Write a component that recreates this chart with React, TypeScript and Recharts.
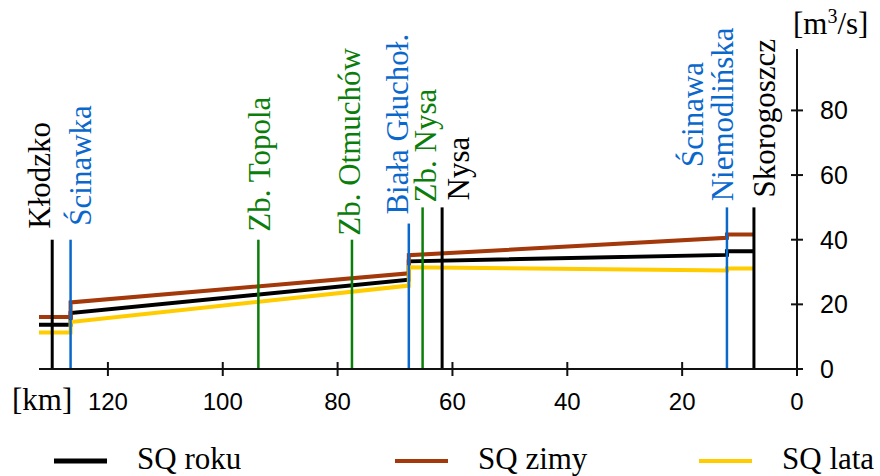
import React from 'react';
import { ComposedChart, Line, XAxis, YAxis, Legend, Label } from 'recharts';

const SERIF = '"Liberation Serif", "Times New Roman", serif';
const SANS = '"Liberation Sans", Arial, sans-serif';

const KM_TICKS = [0, 20, 40, 60, 80, 100, 120];
const Q_TICKS = [0, 20, 40, 60, 80];

// stations along the river: name, km from mouth, height of the marker [m3/s], type
const STATION_NAMES = [
  'Kłodzko', 'Ścinawka', 'Zb. Topola', 'Zb. Otmuchów', 'Biała Głuchoł.',
  'Zb. Nysa', 'Nysa', 'Ścinawa Niemodlińska', 'Skorogoszcz',
];
const STATION_KM = [129.7, 126.5, 93.8, 77.5, 67.6, 65.2, 61.8, 12.2, 7.5];
const STATION_TOP = [40, 40, 40, 40, 45, 50, 50, 50, 50];
const STATION_KIND = [
  'gauge', 'tributary', 'reservoir', 'reservoir', 'tributary',
  'reservoir', 'gauge', 'tributary', 'gauge',
];

// flow profile (steps at tributary inflows)
const PROFILE_KM = [132, 126.5, 126.5, 67.6, 67.6, 12.2, 12.2, 7.5];
const SQ_ROKU = [13.7, 13.7, 17.3, 27.6, 33.3, 35.3, 36.4, 36.4];
const SQ_ZIMY = [16.1, 16.1, 20.6, 29.6, 35.2, 40.6, 41.6, 41.6];
const SQ_LATA = [11.3, 11.3, 14.5, 25.8, 31.5, 30.5, 31.1, 31.1];

const SERIES = [
  { name: 'SQ roku', values: SQ_ROKU, color: '#000000' },
  { name: 'SQ zimy', values: SQ_ZIMY, color: '#a3390b' },
  { name: 'SQ lata', values: SQ_LATA, color: '#ffcc00' },
];

const KIND_COLOR: Record<string, string> = {
  gauge: '#000000',
  tributary: '#0a68cc',
  reservoir: '#0a7d0a',
};

// label placement per station: dx = baseline offset from marker, gap above marker top
const LABEL_POS: { dx: number[]; gap: number; middle?: boolean }[] = [
  { dx: [-2], gap: 11 },
  { dx: [20], gap: 14 },
  { dx: [12], gap: 8 },
  { dx: [8], gap: 4 },
  { dx: [-1], gap: 9 },
  { dx: [13], gap: 5 },
  { dx: [27], gap: 7 },
  { dx: [-24, 6], gap: 93, middle: true },
  { dx: [21], gap: 10 },
];

const LEGEND_X = [54, 395, 699];

const KmTick = (props: any) => {
  const { x, y, payload } = props;
  return (
    <g>
      <line x1={x} x2={x} y1={y - 7} y2={y + 7} stroke="#111" strokeWidth={2} />
      <text x={x} y={y + 41} textAnchor="middle" fontSize={24} fontFamily={SANS} fill="#000">
        {payload.value}
      </text>
    </g>
  );
};

const QTick = (props: any) => {
  const { x, y, payload } = props;
  return (
    <g>
      <line x1={x - 6} x2={x + 6} y1={y} y2={y} stroke="#111" strokeWidth={2} />
      <text x={x + 23} y={y} dy="0.36em" textAnchor="start" fontSize={25} fontFamily={SANS} fill="#000">
        {payload.value}
      </text>
    </g>
  );
};

const KmLabel = (props: any) => {
  const vb = props.viewBox || {};
  return (
    <text x={vb.x - 27} y={vb.y + 41} fontSize={31} fontFamily={SERIF} fill="#000">[km]</text>
  );
};

const UnitLabel = (props: any) => {
  const vb = props.viewBox || {};
  return (
    <text x={vb.x - 4} y={vb.y - 15} fontSize={31} fontFamily={SERIF} fill="#000">
      [m<tspan fontSize={20} dy={-11}>3</tspan><tspan dy={11}>/s]</tspan>
    </text>
  );
};

const stationDot = (s: number) => (props: any) => {
  const { cx, cy, index } = props;
  if (index !== 1) return <g key={`st${s}-${index}`} />;
  const pos = LABEL_POS[s];
  const color = KIND_COLOR[STATION_KIND[s]];
  const lines = pos.dx.length > 1 ? STATION_NAMES[s].split(' ') : [STATION_NAMES[s]];
  const py = cy - pos.gap;
  return (
    <g key={`st${s}-${index}`}>
      {lines.map((t, i) => {
        const px = cx + pos.dx[i];
        return (
          <text
            key={i}
            x={px}
            y={py}
            transform={`rotate(-90 ${px} ${py})`}
            textAnchor={pos.middle ? 'middle' : 'start'}
            fontSize={31}
            fontFamily={SERIF}
            fill={color}
          >
            {t}
          </text>
        );
      })}
    </g>
  );
};

const LegendContent = (props: any) => {
  const payload = props.payload || [];
  const list = SERIES.map((s) => {
    const p = payload.find((e: any) => e.value === s.name);
    return { value: s.name, color: p ? p.color : s.color };
  });
  return (
    <svg width={880} height={36}>
      {list.map((p, i) => (
        <g key={p.value}>
          <line x1={LEGEND_X[i]} x2={LEGEND_X[i] + 53} y1={21} y2={21} stroke={p.color} strokeWidth={i === 0 ? 5 : 4} />
          <text x={LEGEND_X[i] + 83} y={29} fontSize={31} fontFamily={SERIF} fill="#000">{p.value}</text>
        </g>
      ))}
    </svg>
  );
};

export default function App() {
  return (
    <div style={{ position: 'fixed', left: 0, top: 0, width: 880, height: 476, background: '#fff' }}>
      <ComposedChart width={880} height={476} margin={{ top: 49, right: 23, bottom: 57, left: 39 }}>
        <XAxis
          type="number"
          dataKey="km"
          domain={[0, 132]}
          reversed
          ticks={KM_TICKS}
          interval={0}
          height={50}
          tickSize={0}
          tickMargin={0}
          tickLine={false}
          axisLine={{ stroke: '#111', strokeWidth: 2 }}
          tick={(p: any) => <KmTick {...p} />}
        >
          <Label content={KmLabel} />
        </XAxis>
        <YAxis
          orientation="right"
          type="number"
          domain={[0, 99]}
          ticks={Q_TICKS}
          interval={0}
          width={60}
          tickSize={0}
          tickMargin={0}
          tickLine={false}
          axisLine={{ stroke: '#111', strokeWidth: 2 }}
          tick={(p: any) => <QTick {...p} />}
        >
          <Label content={UnitLabel} />
        </YAxis>
        {SERIES.map((s) => (
          <Line
            key={s.name}
            name={s.name}
            data={PROFILE_KM.map((km, i) => ({ km, v: s.values[i] }))}
            dataKey="v"
            type="linear"
            stroke={s.color}
            strokeWidth={4}
            dot={false}
            activeDot={false}
            isAnimationActive={false}
          />
        ))}
        {STATION_NAMES.map((n, s) => (
          <Line
            key={n}
            name={n}
            data={[{ km: STATION_KM[s], v: 0 }, { km: STATION_KM[s], v: STATION_TOP[s] }]}
            dataKey="v"
            type="linear"
            stroke={KIND_COLOR[STATION_KIND[s]]}
            strokeWidth={STATION_KIND[s] === 'gauge' ? 3 : 2.5}
            dot={stationDot(s)}
            activeDot={false}
            legendType="none"
            isAnimationActive={false}
          />
        ))}
        <Legend
          layout="horizontal"
          verticalAlign="middle"
          align="center"
          wrapperStyle={{ position: 'absolute', top: 440, left: 0, width: 880, height: 36 }}
          content={LegendContent}
        />
      </ComposedChart>
    </div>
  );
}
